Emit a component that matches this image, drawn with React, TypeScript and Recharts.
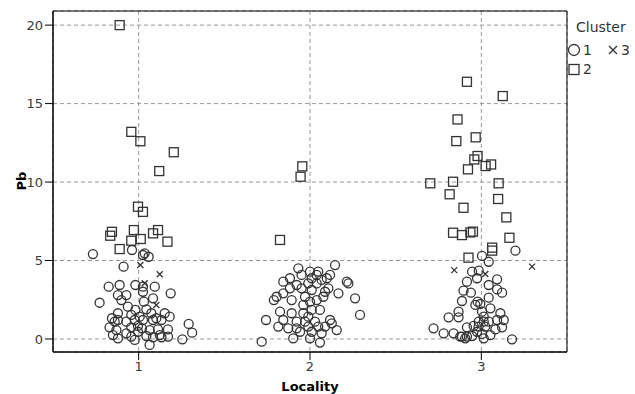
import { ScatterChart, Scatter, XAxis, YAxis, CartesianGrid, ReferenceArea } from 'recharts';

// [locality (jittered), Pb]
const cluster1: [number, number][] = [
  // locality 1
  [0.733, 5.41], [0.961, 5.67], [1.025, 5.35], [1.058, 5.24], [1.035, 5.46], [0.912, 4.61],
  [0.825, 3.33], [0.889, 3.44], [0.981, 3.44], [1.025, 3.33], [1.094, 3.33], [1.187, 2.91],
  [0.772, 2.31], [0.879, 2.8], [0.928, 2.8], [0.899, 2.48], [1.025, 3.01], [1.031, 2.38],
  [1.084, 2.59], [0.937, 2.06], [0.981, 1.85], [1.045, 1.89], [0.879, 1.64], [0.844, 1.32],
  [0.879, 1.21], [0.928, 1.1], [0.977, 1.21], [1.025, 1.21], [1.084, 1.21], [1.152, 1.64],
  [1.181, 1.42], [1.133, 1.21], [0.83, 0.74], [0.87, 0.57], [0.957, 0.74], [0.996, 0.83],
  [1.019, 0.68], [1.064, 0.57], [1.113, 0.61], [1.171, 0.61], [0.879, 0.04], [0.957, 0.15],
  [0.977, -0.06], [1.084, 0.11], [1.133, 0.11], [1.064, -0.38], [1.292, 0.96], [1.312, 0.4],
  [1.255, -0.02], [0.85, 0.25], [0.928, 0.36], [1.123, 0.25], [1.171, 0.15], [0.86, 1.1],
  [0.996, 0.46], [1.045, 0.19], [0.957, 1.53], [1.006, 1.42], [1.074, 1.64], [1.103, 1.32],
  // locality 2
  [2.146, 4.71], [1.932, 4.5], [2.0, 4.29], [2.048, 4.29], [1.951, 4.08], [1.883, 3.87],
  [1.844, 3.65], [2.01, 3.87], [2.098, 3.87], [2.215, 3.65], [2.224, 3.54], [1.922, 3.44],
  [1.99, 3.54], [2.039, 3.54], [1.883, 3.23], [1.951, 3.23], [2.01, 3.12], [2.088, 3.01],
  [2.107, 3.23], [2.166, 2.91], [1.805, 2.69], [1.789, 2.48], [1.844, 2.91], [1.893, 2.48],
  [1.971, 2.69], [2.039, 2.48], [2.078, 2.69], [2.263, 2.59], [2.0, 2.38], [1.961, 2.17],
  [2.01, 1.85], [2.058, 1.85], [1.825, 1.74], [1.893, 1.64], [1.961, 1.64], [2.292, 1.53],
  [1.99, 1.42], [1.743, 1.21], [1.844, 1.21], [1.922, 1.1], [1.971, 1.1], [2.029, 1.1],
  [2.117, 1.21], [1.815, 0.79], [1.873, 0.68], [1.922, 0.68], [1.99, 0.79], [2.048, 0.79],
  [2.088, 0.79], [2.127, 1.0], [2.156, 0.57], [1.942, 0.46], [2.01, 0.46], [2.068, 0.36],
  [1.902, 0.04], [2.0, 0.04], [2.058, -0.23], [1.718, -0.17], [2.039, 4.08], [2.068, 3.76],
  [2.117, 4.08],
  // locality 3
  [3.199, 5.63], [3.004, 5.29], [3.043, 4.92], [2.946, 4.29], [2.985, 4.35], [2.975, 3.87],
  [3.092, 3.8], [2.916, 3.65], [3.043, 3.44], [3.092, 3.16], [3.121, 2.95], [2.896, 3.08],
  [2.939, 2.95], [3.043, 2.63], [2.887, 2.42], [2.978, 2.38], [2.965, 2.17], [2.994, 2.23],
  [3.053, 1.95], [3.004, 1.74], [2.867, 1.74], [3.111, 1.64], [2.809, 1.38], [2.867, 1.38],
  [2.985, 1.1], [3.014, 1.1], [3.043, 1.1], [3.092, 1.21], [3.131, 1.21], [2.916, 0.74],
  [2.955, 0.83], [2.984, 0.79], [3.023, 0.79], [3.121, 0.74], [3.082, 0.61], [2.721, 0.68],
  [2.78, 0.36], [2.838, 0.36], [2.887, 0.15], [2.916, 0.15], [2.946, 0.19], [3.004, 0.32],
  [3.014, 0.04], [3.053, 0.25], [3.179, -0.02], [2.975, 0.46], [3.014, 1.42], [2.877, 0.15],
  [2.906, 0.04],
];

const cluster2: [number, number][] = [
  // locality 1
  [0.889, 20.0], [0.957, 13.2], [1.01, 12.6], [1.205, 11.9], [1.12, 10.7], [0.996, 8.43],
  [1.025, 8.1], [0.844, 6.83], [0.834, 6.58], [0.972, 6.94], [0.957, 6.26], [1.012, 6.37],
  [1.084, 6.73], [1.113, 6.94], [1.168, 6.2], [0.889, 5.73],
  // locality 2
  [1.955, 11.0], [1.945, 10.34], [1.825, 6.31],
  // locality 3
  [2.916, 16.39], [3.125, 15.48], [2.861, 13.99], [2.854, 12.61], [2.967, 12.85], [2.978, 11.66],
  [2.959, 11.44], [2.922, 10.81], [3.025, 11.02], [3.057, 11.12], [2.702, 9.92], [2.835, 10.02],
  [3.101, 9.92], [2.815, 9.22], [3.098, 8.92], [2.896, 8.36], [3.146, 7.75], [2.835, 6.77],
  [2.887, 6.62], [2.936, 6.79], [2.951, 6.84], [3.164, 6.45], [3.063, 5.82], [3.063, 5.63],
  [2.925, 5.18],
];

const cluster3: [number, number][] = [
  [1.01, 4.71], [1.123, 4.12], [1.035, 3.55], [1.103, 2.17],
  [2.842, 4.39], [3.296, 4.61], [3.023, 4.14],
];

const xTicks = [1, 2, 3];
const yTicks = [0, 5, 10, 15, 20];
const xDomain = [0.5, 3.5];
const yDomain = [-0.83, 20.9];

const toPoints = (arr: [number, number][]) => arr.map(([x, y]) => ({ x, y }));

const INK = '#333';
const FONT = '"DejaVu Sans", Verdana, sans-serif';

const Circle = (p: any) => (
  <circle cx={p.cx} cy={p.cy} r={4.5} fill="none" stroke={INK} strokeWidth={1.3} />
);
const Square = (p: any) => (
  <rect x={p.cx - 4.5} y={p.cy - 4.5} width={9} height={9} fill="none" stroke={INK} strokeWidth={1.3} />
);
const Cross = (p: any) => (
  <path
    d={`M${p.cx - 3},${p.cy - 3}L${p.cx + 3},${p.cy + 3}M${p.cx - 3},${p.cy + 3}L${p.cx + 3},${p.cy - 3}`}
    stroke={INK}
    strokeWidth={1.3}
  />
);

const tickStyle = { fill: '#3a3a3a', fontSize: 13, fontFamily: FONT };

export default function App() {
  return (
    <div style={{ position: 'absolute', left: 0, top: 0, width: 635, height: 394, background: '#fff', fontFamily: FONT }}>
      <ScatterChart width={635} height={394} margin={{ top: 11, right: 68, bottom: 12, left: 8 }}>
        <CartesianGrid stroke="#999" strokeDasharray="4 3" />
        <XAxis
          type="number"
          dataKey="x"
          domain={xDomain}
          ticks={xTicks}
          allowDataOverflow
          height={30}
          tickSize={8}
          stroke="#000"
          tick={tickStyle}
        />
        <YAxis
          type="number"
          dataKey="y"
          domain={yDomain}
          ticks={yTicks}
          allowDataOverflow
          width={45}
          tickSize={8}
          stroke="#000"
          tick={tickStyle}
        />
        <ReferenceArea x1={xDomain[0]} x2={xDomain[1]} y1={yDomain[0]} y2={yDomain[1]} fill="none" stroke="#000" strokeWidth={1} />
        <Scatter data={toPoints(cluster1)} shape={Circle} isAnimationActive={false} />
        <Scatter data={toPoints(cluster2)} shape={Square} isAnimationActive={false} />
        <Scatter data={toPoints(cluster3)} shape={Cross} isAnimationActive={false} />
      </ScatterChart>
      <div style={{ position: 'absolute', left: 21, top: 181, transform: 'translate(-50%, -50%) rotate(-90deg)', fontWeight: 'bold', fontSize: 13, color: '#000' }}>
        Pb
      </div>
      <div style={{ position: 'absolute', left: 310, top: 386, transform: 'translate(-50%, -50%)', fontWeight: 'bold', fontSize: 13, color: '#000' }}>
        Locality
      </div>
      <div style={{ position: 'absolute', left: 576, top: 19, fontSize: 14, color: '#333' }}>Cluster</div>
      <svg style={{ position: 'absolute', left: 566, top: 40 }} width={69} height={40}>
        <circle cx={8} cy={10} r={5.5} fill="none" stroke={INK} strokeWidth={1.3} />
        <text x={17} y={15} fontSize={14} fill="#333" fontFamily={FONT}>1</text>
        <path d="M43,6L51,14M43,14L51,6" stroke={INK} strokeWidth={1.3} />
        <text x={55} y={15} fontSize={14} fill="#333" fontFamily={FONT}>3</text>
        <rect x={3} y={24.5} width={10} height={10} fill="none" stroke={INK} strokeWidth={1.3} />
        <text x={17} y={34} fontSize={14} fill="#333" fontFamily={FONT}>2</text>
      </svg>
    </div>
  );
}
